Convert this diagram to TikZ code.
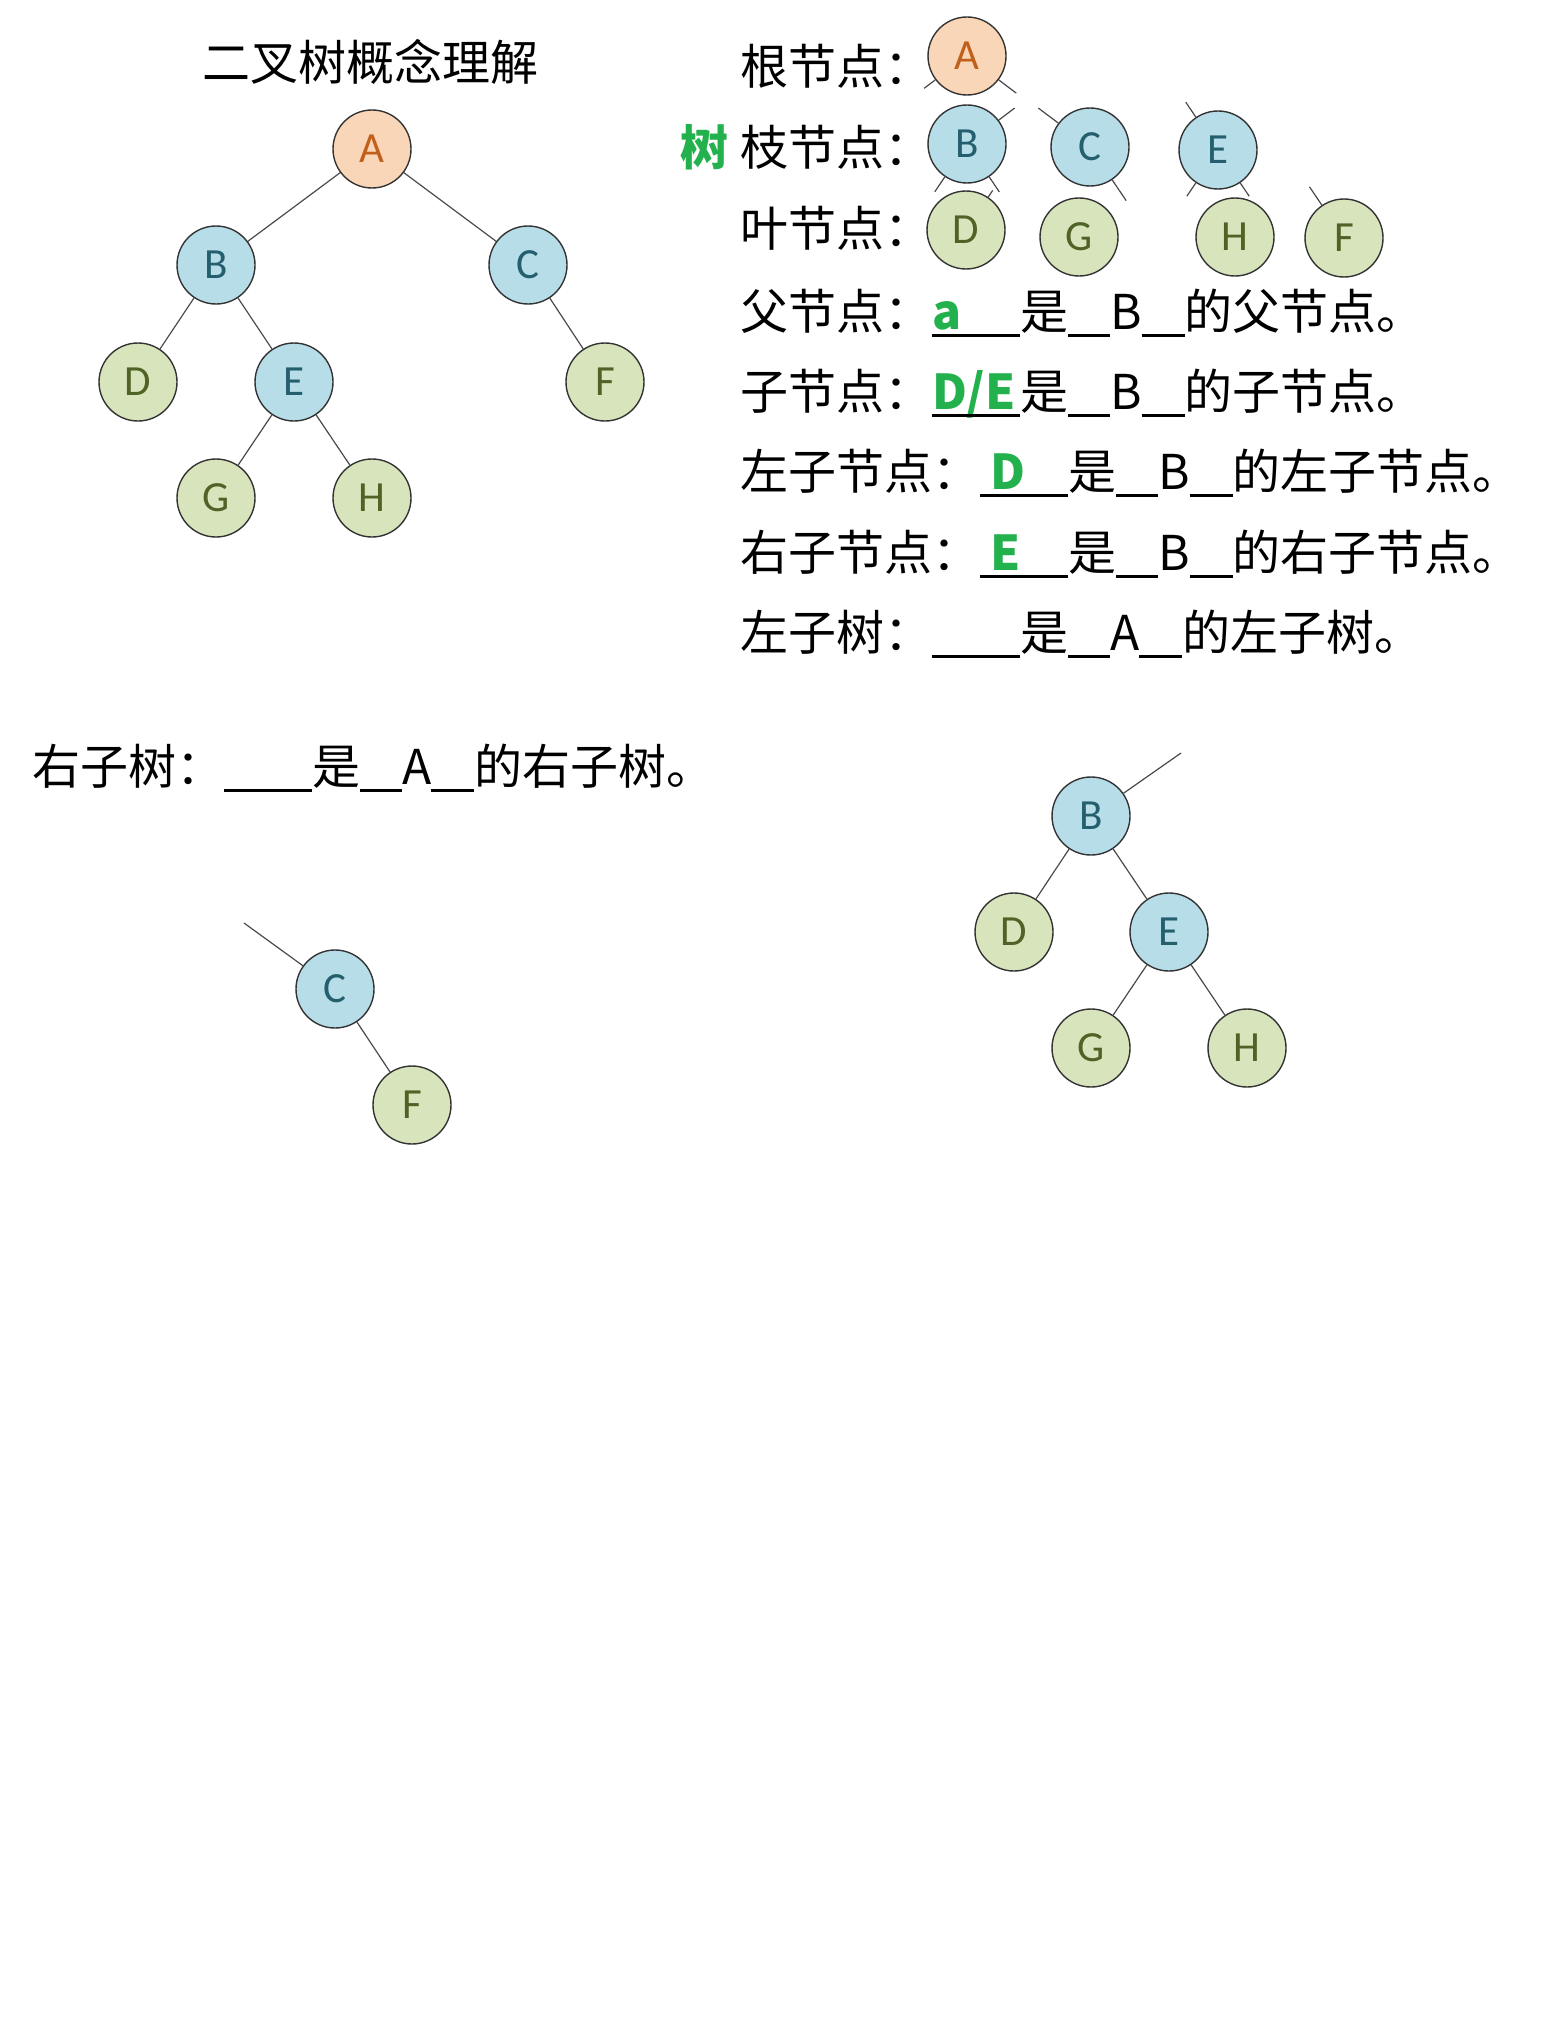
\documentclass[tikz,border=0pt]{standalone}
\usepackage{fontspec}
\setmainfont{Noto Sans CJK SC}
\newfontfamily\letterfont{Carlito}
\usepackage{xcolor}
\usepackage{tikz}
\usetikzlibrary{positioning}

\definecolor{rootfill}{HTML}{FAD6B8}
\definecolor{roottext}{HTML}{C0601C}
\definecolor{branchfill}{HTML}{B7DDE8}
\definecolor{branchtext}{HTML}{245F6E}
\definecolor{leaffill}{HTML}{D7E4BC}
\definecolor{leaftext}{HTML}{506326}
\definecolor{hlgreen}{HTML}{22B14C}
\definecolor{edgegray}{HTML}{4A4A4A}

\newcommand{\hlword}[1]{\textbf{\color{hlgreen}#1}}
\newcommand{\gapline}[1]{\rule[-8pt]{#1}{2.6pt}}
\newcommand{\blankfill}[2]{\rlap{\hlword{#2}}\gapline{#1}}

\begin{document}
\begin{tikzpicture}[
    x=1pt, y=1pt,
    treenode/.style={circle, draw=black!80, line width=1.4pt, minimum size=78pt, inner sep=0pt, font=\letterfont\fontsize{43}{43}\selectfont},
    rootnode/.style={treenode, fill=rootfill, text=roottext},
    branchnode/.style={treenode, fill=branchfill, text=branchtext},
    leafnode/.style={treenode, fill=leaffill, text=leaftext},
    treeedge/.style={draw=edgegray, line width=1.2pt},
    linetext/.style={anchor=base west, inner sep=0pt, font=\fontsize{48}{56}\selectfont}
]

% Page size and background
\fill[white] (0,0) rectangle (1548,-2028);
\useasboundingbox (0,0) rectangle (1548,-2028);

% Title
\node[font=\fontsize{48}{56}\selectfont] (title) at (370,-62) {二叉树概念理解};

% Full binary tree
\node[rootnode] (a1) at (372,-149) {A};
\node[branchnode] (b1) at (216,-265) {B};
\node[branchnode] (c1) at (528,-265) {C};
\node[leafnode] (d1) at (138,-382) {D};
\node[branchnode] (e1) at (294,-382) {E};
\node[leafnode] (f1) at (605,-382) {F};
\node[leafnode] (g1) at (216,-498) {G};
\node[leafnode] (h1) at (372,-498) {H};

\draw[treeedge] (a1) -- (b1);
\draw[treeedge] (a1) -- (c1);
\draw[treeedge] (b1) -- (d1);
\draw[treeedge] (b1) -- (e1);
\draw[treeedge] (c1) -- (f1);
\draw[treeedge] (e1) -- (g1);
\draw[treeedge] (e1) -- (h1);

% Node kinds, with cut-off edges
\node[linetext] (rootlbl) at (740,-85) {根节点：};
\node[linetext, font=\bfseries\fontsize{48}{56}\selectfont, text=hlgreen] (treelbl) at (680,-166) {树};
\node[linetext] (branchlbl) at (740,-166) {枝节点：};
\node[linetext] (leaflbl) at (740,-246) {叶节点：};

\node[rootnode] (ra) at (967,-56) {A};
\node[branchnode] (rb) at (967,-144) {B};
\node[branchnode] (rc) at (1090,-147) {C};
\node[branchnode] (re) at (1218,-150) {E};
\node[leafnode] (rd) at (966,-230) {D};
\node[leafnode] (rg) at (1079,-237) {G};
\node[leafnode] (rh) at (1235,-237) {H};
\node[leafnode] (rf) at (1344,-238) {F};

\draw[treeedge] (ra.-143) -- ++(-143:14);
\draw[treeedge] (ra.-37) -- ++(-37:22);
\draw[treeedge] (rb.37) -- ++(37:20);
\draw[treeedge] (rb.-124) -- ++(-124:18);
\draw[treeedge] (rb.-56) -- ++(-56:18);
\draw[treeedge] (rc.143) -- ++(143:25);
\draw[treeedge] (rc.-56) -- ++(-56:25);
\draw[treeedge] (re.124) -- ++(124:18);
\draw[treeedge] (re.-124) -- ++(-124:16);
\draw[treeedge] (re.-56) -- ++(-56:16);
\draw[treeedge] (rd.56) -- ++(56:8);
\draw[treeedge] (rf.124) -- ++(124:22);

% Fill-in sentences
\node[linetext] (parentlbl) at (740,-329) {父节点：\blankfill{88pt}{a}是\gapline{42pt}B\gapline{43pt}的父节点。};
\node[linetext] (childlbl) at (740,-409) {子节点：\blankfill{88pt}{D/E}是\gapline{42pt}B\gapline{43pt}的子节点。};
\node[linetext] (leftchildlbl) at (740,-489) {左子节点：\blankfill{88pt}{\hspace{10pt}D}是\gapline{42pt}B\gapline{43pt}的左子节点。};
\node[linetext] (rightchildlbl) at (740,-570) {右子节点：\blankfill{88pt}{\hspace{10pt}E}是\gapline{42pt}B\gapline{43pt}的右子节点。};
\node[linetext] (lefttreelbl) at (740,-650) {左子树：\gapline{88pt}是\gapline{42pt}A\gapline{43pt}的左子树。};
\node[linetext] (righttreelbl) at (32,-784) {右子树：\gapline{88pt}是\gapline{42pt}A\gapline{43pt}的右子树。};

% Right subtree of A
\coordinate (ctop) at (244,-923);
\node[branchnode] (c2) at (335,-989) {C};
\node[leafnode] (f2) at (412,-1105) {F};
\draw[treeedge] (ctop) -- (c2);
\draw[treeedge] (c2) -- (f2);

% Left subtree of A
\coordinate (btop) at (1181,-753);
\node[branchnode] (b3) at (1091,-816) {B};
\node[leafnode] (d3) at (1014,-932) {D};
\node[branchnode] (e3) at (1169,-932) {E};
\node[leafnode] (g3) at (1091,-1048) {G};
\node[leafnode] (h3) at (1247,-1048) {H};
\draw[treeedge] (btop) -- (b3);
\draw[treeedge] (b3) -- (d3);
\draw[treeedge] (b3) -- (e3);
\draw[treeedge] (e3) -- (g3);
\draw[treeedge] (e3) -- (h3);

\end{tikzpicture}
\end{document}
